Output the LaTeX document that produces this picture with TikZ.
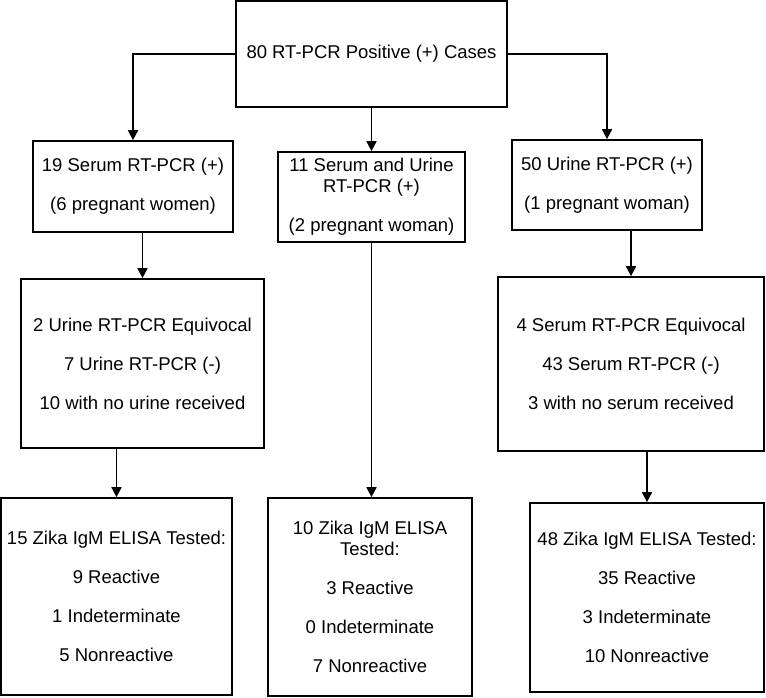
\documentclass[tikz,border=0pt]{standalone}
\usepackage{fontspec}
\setmainfont{Liberation Sans}
\usetikzlibrary{arrows.meta}
\tikzset{
  box/.style={draw=black, line width=1.7pt, rectangle, inner sep=0pt, align=center,
    font=\fontsize{18.5}{39}\selectfont, text=black},
  arr/.style={draw=black, line width=1.7pt, -{Triangle[length=10pt,width=10pt]}}
}
\begin{document}
\begin{tikzpicture}[x=1pt,y=-1pt]
\useasboundingbox[fill=white] (0,0) rectangle (766,698);
\node[box, minimum width=271pt, minimum height=106pt] (top) at (371.5,54) {80 RT-PCR Positive (+) Cases};
\node[box, minimum width=200pt, minimum height=91pt] (b1) at (133,186.5) {\raisebox{-3pt}{19 Serum RT-PCR (+)}\\\raisebox{-3pt}{(6 pregnant women)}};
\node[box, minimum width=187pt, minimum height=90pt] (b2) at (371.5,197) {\raisebox{-2pt}{11 Serum and Urine}\\[-18pt]\raisebox{-2pt}{RT-PCR (+)}\\\raisebox{-2pt}{(2 pregnant woman)}};
\node[box, minimum width=190pt, minimum height=90pt] (b3) at (607,185) {\raisebox{-3pt}{50 Urine RT-PCR (+)}\\\raisebox{-3pt}{(1 pregnant woman)}};
\node[box, minimum width=243pt, minimum height=169pt] (b4) at (142.5,363.5) {2 Urine RT-PCR Equivocal\\7 Urine RT-PCR (-)\\10 with no urine received};
\node[box, minimum width=266pt, minimum height=174pt] (b5) at (631,364) {4 Serum RT-PCR Equivocal\\43 Serum RT-PCR (-)\\3 with no serum received};
\node[box, minimum width=231pt, minimum height=197pt] (b7) at (116.5,596.5) {15 Zika IgM ELISA Tested:\\9 Reactive\\1 Indeterminate\\5 Nonreactive};
\node[box, minimum width=204pt, minimum height=198pt] (b8) at (370,597) {10 Zika IgM ELISA\\[-18pt]Tested:\\3 Reactive\\0 Indeterminate\\7 Nonreactive};
\node[box, minimum width=234pt, minimum height=189pt] (b9) at (647,597.5) {48 Zika IgM ELISA Tested:\\35 Reactive\\3 Indeterminate\\10 Nonreactive};
\draw[arr] (top.west) -| (b1.north);
\draw[arr] (top.east) -| (b3.north);
\draw[arr] (top.south) -- (b2.north);
\draw[arr] (b4.north |- b1.south) -- (b4.north);
\draw[arr] (b5.north |- b3.south) -- (b5.north);
\draw[arr] (b7.north |- b4.south) -- (b7.north);
\draw[arr] (b2.south) -- (b2.south |- b8.north);
\draw[arr] (b9.north |- b5.south) -- (b9.north);
\end{tikzpicture}
\end{document}
